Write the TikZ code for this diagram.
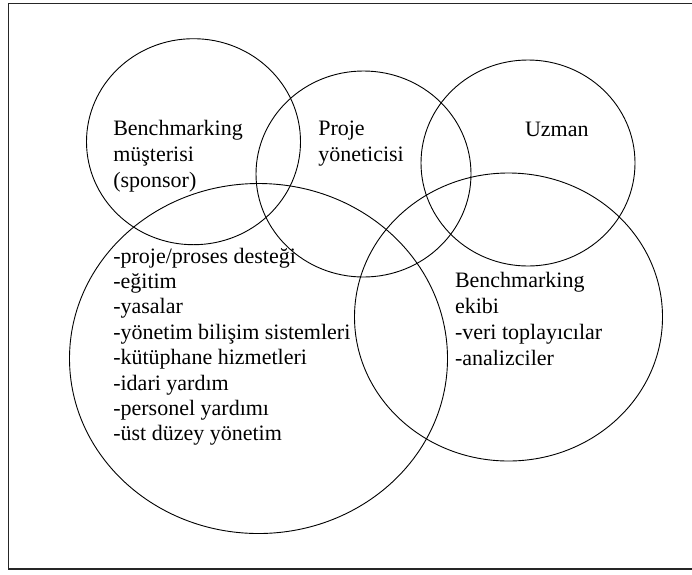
\documentclass[tikz,border=0pt]{standalone}
\usepackage{fontspec}
\setmainfont{Liberation Serif}
\usetikzlibrary{shapes.geometric}

\begin{document}
\begin{tikzpicture}[x=1pt,y=-1pt]
\tikzset{every node/.style={inner sep=0pt,outer sep=0pt}}
\tikzset{party/.style={ellipse,draw,line width=0.9pt}}
\tikzset{role/.style={anchor=base west,align=left,font=\fontsize{22}{25.8}\selectfont}}
\useasboundingbox (0,0) rectangle (692,574);
\draw[line width=1.6pt,black!85] (692,3.5) -- (8.5,3.5) -- (8.5,569) -- (692,569);
% the five groups
\node[party,minimum width=214pt,minimum height=206pt] (sponsor) at (193.5,141.7) {};
\node[party,minimum width=215pt,minimum height=206pt] (proje) at (363.5,174) {};
\node[party,minimum width=214pt,minimum height=206pt] (uzman) at (528,163) {};
\node[party,minimum width=378pt,minimum height=350pt] (destek) at (258.5,358.5) {};
\node[party,minimum width=308pt,minimum height=288pt] (ekip) at (508.5,317) {};
% labels (anchored at the baseline of their last line)
\node[role] (sponsorlbl) at (113.3,187) {Benchmarking\\müşterisi\\(sponsor)};
\node[role] (projelbl) at (318.3,161.2) {Proje\\yöneticisi};
\node[role] (uzmanlbl) at (525,136) {Uzman};
\node[role] (ekiplbl) at (455,365.3) {Benchmarking\\ekibi\\-veri toplayıcılar\\-analizciler};
\node[role,font=\fontsize{22}{25.35}\selectfont] (desteklbl) at (113.3,440.7) {-proje/proses desteği\\-eğitim\\-yasalar\\-yönetim bilişim sistemleri\\-kütüphane hizmetleri\\-idari yardım\\-personel yardımı\\-üst düzey yönetim};
\end{tikzpicture}
\end{document}
